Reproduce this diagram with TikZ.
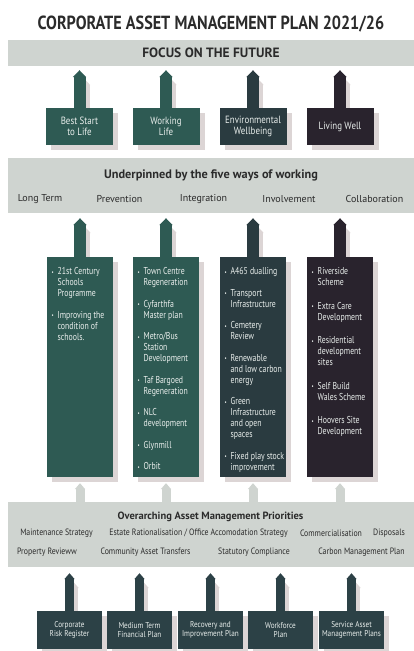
\documentclass[tikz,border=0pt]{standalone}
\usepackage{fontspec}
\setmainfont{PT Sans}
\newfontfamily\camnarrow[FakeStretch=0.85]{PT Sans}
\newfontfamily\camtight[FakeStretch=0.78]{PT Sans}
\usetikzlibrary{arrows.meta,shadows}
\definecolor{bargrey}{HTML}{CFD4D0}
\definecolor{camteal}{HTML}{2E5A53}
\definecolor{camslate}{HTML}{2A3B40}
\definecolor{camplum}{HTML}{29232D}
\definecolor{camdeep}{HTML}{2C4146}
\definecolor{camshade}{HTML}{DCD5D5}
\definecolor{camink}{HTML}{2B2B2B}
\definecolor{camlight}{HTML}{E9EEEC}
\newcommand\dotb{{\fontsize{6}{6}\selectfont\raisebox{0.6pt}{•}}}
\newcommand\camlist[1]{\begin{tabular}{@{}l@{\hspace{4pt}}l@{}}#1\end{tabular}}
\begin{document}
\begin{tikzpicture}[x=1pt,y=-1pt,
  bar/.style={fill=bargrey, minimum width=406pt, inner sep=0pt},
  boxshadow/.style={drop shadow={shadow xshift=5pt, shadow yshift=-5pt, fill=camshade, opacity=1}},
  goal/.style={boxshadow, minimum width=67pt, minimum height=37pt, inner sep=0pt,
    text=camlight, align=center, font=\camnarrow\fontsize{10.5}{11.5}\selectfont},
  column/.style={boxshadow, minimum width=66pt, minimum height=220pt, inner sep=0pt},
  listtext/.style={anchor=north west, inner sep=0pt, text=camlight, font=\camtight\fontsize{10}{11}\selectfont},
  plan/.style={boxshadow, minimum width=65pt, minimum height=38pt, inner sep=0pt, fill=camdeep,
    text=camlight, align=center, font=\camnarrow\fontsize{8.5}{9.5}\selectfont},
  way/.style={text=camink, font=\fontsize{10}{12}\selectfont},
  prio/.style={text=camink, font=\camnarrow\fontsize{9.2}{10}\selectfont},
  lift/.style={line width=12pt, -{Triangle[length=7pt,width=13pt]}},
  small lift/.style={line width=9pt, -{Triangle[length=6pt,width=10pt]}}]
\useasboundingbox (0,0) rectangle (414,651);
\node[text=camink, font=\camnarrow\bfseries\fontsize{19}{21}\selectfont] (title) at (211,24) {CORPORATE ASSET MANAGEMENT PLAN 2021/26};
% focus bar and the four goals
\node[bar, minimum height=26pt, text=camink, font=\bfseries\fontsize{13.5}{16}\selectfont] (focus) at (211,53) {FOCUS ON THE FUTURE};
\draw[lift, draw=camshade, transform canvas={shift={(4pt,-4pt)}}] (79.5,108) -- (79.5,74);
\draw[lift, draw=camshade, transform canvas={shift={(4pt,-4pt)}}] (166,108) -- (166,74);
\draw[lift, draw=camshade, transform canvas={shift={(4pt,-4pt)}}] (253,108) -- (253,74);
\draw[lift, draw=camshade, transform canvas={shift={(4pt,-4pt)}}] (340,108) -- (340,74);
\node[goal, fill=camteal] (g1) at (79.5,126.5) {Best Start\\to Life};
\node[goal, fill=camteal] (g2) at (166,126.5) {Working\\Life};
\node[goal, fill=camslate] (g3) at (253,126.5) {Environmental\\Wellbeing};
\node[goal, fill=camplum] (g4) at (340,126.5) {Living Well};
\draw[lift, draw=camteal, shorten >=4pt] (g1.north) -- (g1.north |- focus.south);
\draw[lift, draw=camteal, shorten >=4pt] (g2.north) -- (g2.north |- focus.south);
\draw[lift, draw=camslate, shorten >=4pt] (g3.north) -- (g3.north |- focus.south);
\draw[lift, draw=camplum, shorten >=4pt] (g4.north) -- (g4.north |- focus.south);
% five ways of working
\node[bar, minimum height=55pt] (ways) at (211,185.5) {};
\node[text=camink, font=\bfseries\fontsize{12.3}{14}\selectfont] (waystitle) at (211,175) {Underpinned by the five ways of working};
\node[way] (w1) at (40,199) {Long Term};
\node[way] (w2) at (119.5,199) {Prevention};
\node[way] (w3) at (203.5,199) {Integration};
\node[way] (w4) at (289,199) {Involvement};
\node[way] (w5) at (374.5,199) {Collaboration};
% project columns
\draw[lift, draw=camshade, transform canvas={shift={(4pt,-4pt)}}] (80,257) -- (80,222);
\draw[lift, draw=camshade, transform canvas={shift={(4pt,-4pt)}}] (166,257) -- (166,222);
\draw[lift, draw=camshade, transform canvas={shift={(4pt,-4pt)}}] (253,257) -- (253,222);
\draw[lift, draw=camshade, transform canvas={shift={(4pt,-4pt)}}] (340,257) -- (340,222);
\node[column, fill=camteal] (m1) at (80,367) {};
\node[column, fill=camteal] (m2) at (166,367) {};
\node[column, fill=camslate] (m3) at (253,367) {};
\node[column, fill=camplum] (m4) at (340,367) {};
\draw[lift, draw=camteal, shorten >=5pt] (m1.north) -- (m1.north |- ways.south);
\draw[lift, draw=camteal, shorten >=5pt] (m2.north) -- (m2.north |- ways.south);
\draw[lift, draw=camslate, shorten >=5pt] (m3.north) -- (m3.north |- ways.south);
\draw[lift, draw=camplum, shorten >=5pt] (m4.north) -- (m4.north |- ways.south);
\node[listtext] (l1) at ([xshift=4.5pt,yshift=-10pt]m1.north west) {\camlist{
  \dotb & 21st Century\\ & Schools\\ & Programme\\[10.5pt]
  \dotb & Improving the\\ & condition of\\ & schools.}};
\node[listtext] (l2) at ([xshift=4.5pt,yshift=-10pt]m2.north west) {\camlist{
  \dotb & Town Centre\\ & Regeneration\\[10.5pt]
  \dotb & Cyfarthfa\\ & Master plan\\[10.5pt]
  \dotb & Metro/Bus\\ & Station\\ & Development\\[10.5pt]
  \dotb & Taf Bargoed\\ & Regeneration\\[10.5pt]
  \dotb & NLC\\ & development\\[10.5pt]
  \dotb & Glynmill\\[10.5pt]
  \dotb & Orbit}};
\node[listtext] (l3) at ([xshift=4.5pt,yshift=-10pt]m3.north west) {\camlist{
  \dotb & A465 dualling\\[10.5pt]
  \dotb & Transport\\ & Infrastructure\\[10.5pt]
  \dotb & Cemetery\\ & Review\\[10.5pt]
  \dotb & Renewable\\ & and low carbon\\ & energy\\[10.5pt]
  \dotb & Green\\ & Infrastructure\\ & and open\\ & spaces\\[10.5pt]
  \dotb & Fixed play stock\\ & improvement}};
\node[listtext] (l4) at ([xshift=4.5pt,yshift=-10pt]m4.north west) {\camlist{
  \dotb & Riverside\\ & Scheme\\[12.5pt]
  \dotb & Extra Care\\ & Development\\[12.5pt]
  \dotb & Residential\\ & development\\ & sites\\[12.5pt]
  \dotb & Self Build\\ & Wales Scheme\\[12.5pt]
  \dotb & Hoovers Site\\ & Development}};
% priorities
\node[bar, minimum height=65pt] (prio) at (211,534.5) {};
\draw[small lift, draw=bargrey, shorten >=6pt] (prio.north -| m1) -- (m1.south);
\draw[small lift, draw=bargrey, shorten >=6pt] (prio.north -| m2) -- (m2.south);
\draw[small lift, draw=bargrey, shorten >=6pt] (prio.north -| m3) -- (m3.south);
\draw[small lift, draw=bargrey, shorten >=6pt] (prio.north -| m4) -- (m4.south);
\node[text=camink, font=\bfseries\fontsize{10.5}{13}\selectfont] (priotitle) at (210.5,517) {Overarching Asset Management Priorities};
\node[prio] (p1) at (56.5,533) {Maintenance Strategy};
\node[prio] (p2) at (198.5,533) {Estate Rationalisation / Office Accomodation Strategy};
\node[prio] (p3) at (331,533) {Commercialisation};
\node[prio] (p4) at (389,533) {Disposals};
\node[prio] (p5) at (47,552) {Property Revieww};
\node[prio] (p6) at (145.5,552) {Community Asset Transfers};
\node[prio] (p7) at (254,552) {Statutory Compliance};
\node[prio] (p8) at (361.5,552) {Carbon Management Plan};
% supporting plans
\draw[small lift, draw=camshade, transform canvas={shift={(4pt,-4pt)}}] (69.5,611) -- (69.5,578);
\draw[small lift, draw=camshade, transform canvas={shift={(4pt,-4pt)}}] (139.5,611) -- (139.5,578);
\draw[small lift, draw=camshade, transform canvas={shift={(4pt,-4pt)}}] (210.5,611) -- (210.5,578);
\draw[small lift, draw=camshade, transform canvas={shift={(4pt,-4pt)}}] (280.5,611) -- (280.5,578);
\draw[small lift, draw=camshade, transform canvas={shift={(4pt,-4pt)}}] (351.5,611) -- (351.5,578);
\node[plan] (s1) at (69.5,630) {Corporate\\Risk Register};
\node[plan] (s2) at (139.5,630) {Medium Term\\Financial Plan};
\node[plan] (s3) at (210.5,630) {Recovery and\\Improvement Plan};
\node[plan] (s4) at (280.5,630) {Workforce\\Plan};
\node[plan] (s5) at (351.5,630) {Service Asset\\Management Plans};
\draw[small lift, draw=camdeep, shorten >=6pt] (s1.north) -- (s1.north |- prio.south);
\draw[small lift, draw=camdeep, shorten >=6pt] (s2.north) -- (s2.north |- prio.south);
\draw[small lift, draw=camdeep, shorten >=6pt] (s3.north) -- (s3.north |- prio.south);
\draw[small lift, draw=camdeep, shorten >=6pt] (s4.north) -- (s4.north |- prio.south);
\draw[small lift, draw=camdeep, shorten >=6pt] (s5.north) -- (s5.north |- prio.south);
\end{tikzpicture}
\end{document}
